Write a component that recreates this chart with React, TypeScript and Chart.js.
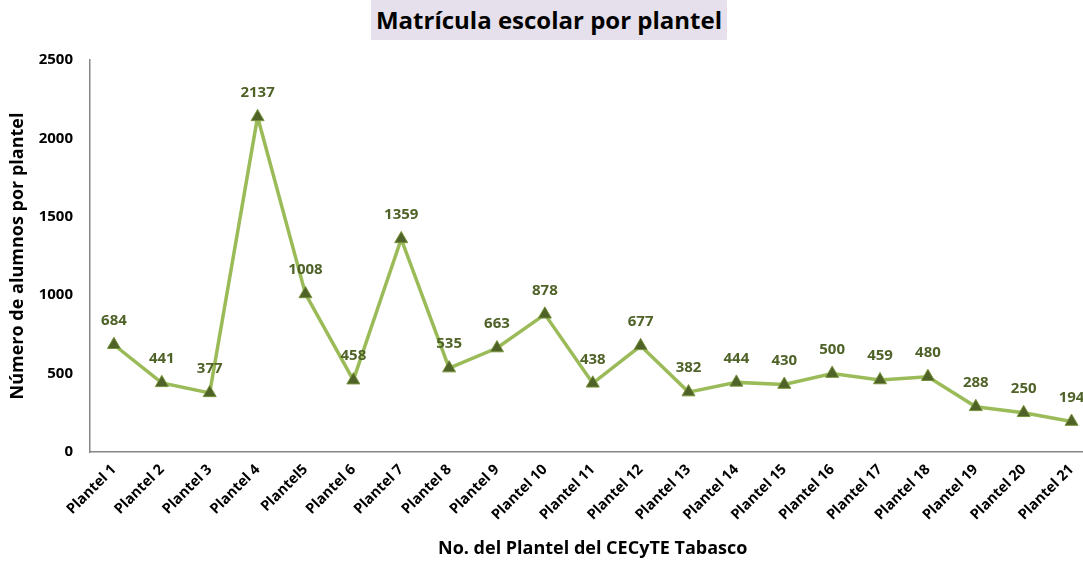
import React, { useEffect, useRef } from "react";
import { Chart, registerables } from "chart.js";

Chart.register(...registerables);

const categories = [
  "Plantel 1", "Plantel 2", "Plantel 3", "Plantel 4", "Plantel5", "Plantel 6", "Plantel 7",
  "Plantel 8", "Plantel 9", "Plantel 10", "Plantel 11", "Plantel 12", "Plantel 13", "Plantel 14",
  "Plantel 15", "Plantel 16", "Plantel 17", "Plantel 18", "Plantel 19", "Plantel 20", "Plantel 21",
];
const enrollment = [684, 441, 377, 2137, 1008, 458, 1359, 535, 663, 878, 438, 677, 382, 444, 430, 500, 459, 480, 288, 250, 194];

const chartTitle = "Matrícula escolar por plantel";
const xTitle = "No. del Plantel del CECyTE Tabasco";
const yTitle = "Número de alumnos por plantel";

const FONT = "'Open Sans', sans-serif";

const dataLabels = {
  id: "dataLabels",
  afterDatasetsDraw(chart: any) {
    const ctx = chart.ctx;
    const meta = chart.getDatasetMeta(0);
    const data = chart.data.datasets[0].data;
    ctx.save();
    ctx.font = `bold 15px ${FONT}`;
    ctx.fillStyle = "#4f6228";
    ctx.textAlign = "center";
    ctx.textBaseline = "middle";
    meta.data.forEach((pt: any, i: number) => {
      ctx.fillText(String(data[i]), pt.x, pt.y - 24);
    });
    ctx.restore();
  },
};

export default function App() {
  const ref = useRef<HTMLCanvasElement | null>(null);
  useEffect(() => {
    if (!ref.current) return;
    const chart = new Chart(ref.current, {
      type: "line",
      data: {
        labels: categories,
        datasets: [
          {
            data: enrollment,
            borderColor: "#9bbb59",
            borderWidth: 3.5,
            pointStyle: "triangle",
            pointRadius: 7.5,
            pointBackgroundColor: "#4f6228",
            pointBorderColor: "#77933c",
            pointBorderWidth: 1,
            tension: 0,
          },
        ],
      },
      options: {
        responsive: false,
        animation: false,
        layout: { padding: { top: 60, left: 0, right: 0, bottom: 0 } },
        plugins: {
          legend: { display: false },
          tooltip: { enabled: false },
          title: { display: false },
        },
        scales: {
          x: {
            offset: true,
            grid: { display: false, drawTicks: false },
            border: { color: "#868686", width: 1.5 },
            ticks: {
              minRotation: 45,
              maxRotation: 45,
              padding: 9,
              color: "#000",
              font: { family: FONT, weight: "bold", size: 14.5 },
            },
            title: {
              display: true,
              text: xTitle,
              color: "#000",
              font: { family: FONT, weight: "bold", size: 18 },
              padding: { top: 0, bottom: 3 },
            },
            afterFit: (s: any) => { s.height = 111; },
          },
          y: {
            min: 0,
            max: 2500,
            grid: { display: false, drawTicks: false },
            border: { color: "#868686", width: 1.5 },
            ticks: {
              stepSize: 500,
              padding: 17,
              color: "#000",
              font: { family: FONT, weight: "bold", size: 15 },
              callback: (v: any) => String(v),
            },
            title: {
              display: true,
              text: yTitle,
              color: "#000",
              font: { family: FONT, weight: "bold", size: 18 },
              padding: { top: 7, bottom: 0 },
            },
            afterFit: (s: any) => { s.width = 90; },
          },
        },
      },
      plugins: [dataLabels],
    });
    return () => chart.destroy();
  }, []);

  return (
    <div style={{ position: "absolute", left: 0, top: 0, width: 1083, height: 563, overflow: "hidden", background: "#fff" }}>
      <div
        style={{
          position: "absolute",
          left: 371,
          top: 0,
          width: 356,
          height: 40,
          background: "#e5e0ec",
          fontFamily: FONT,
          fontWeight: "bold",
          fontSize: 24,
          lineHeight: "40px",
          textAlign: "center",
          color: "#000",
        }}
      >
        {chartTitle}
      </div>
      <canvas ref={ref} width={1104} height={563} style={{ position: "absolute", left: 0, top: 0 }} />
    </div>
  );
}
